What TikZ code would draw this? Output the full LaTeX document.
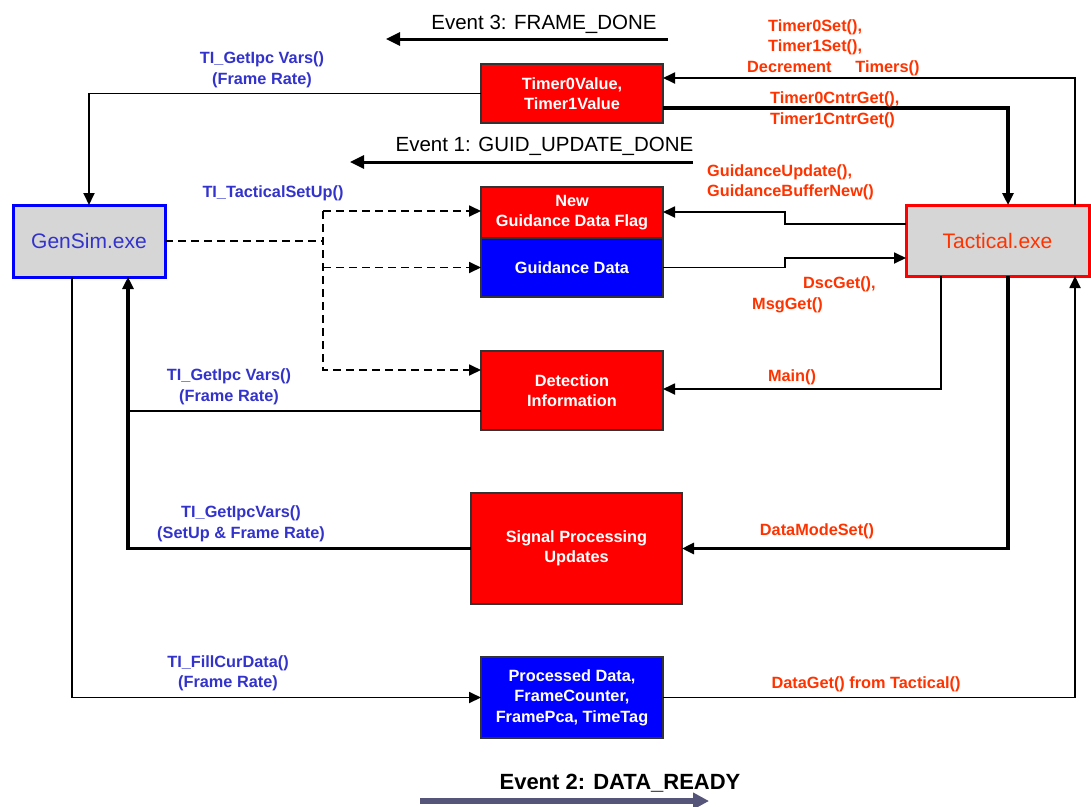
\documentclass[tikz,border=0pt]{standalone}
\usepackage{fontspec}
\setmainfont{Liberation Sans}
\usetikzlibrary{arrows.meta, positioning}

\definecolor{labelblue}{RGB}{51,51,204}
\definecolor{labelred}{RGB}{255,51,0}
\definecolor{exegray}{RGB}{214,214,214}
\definecolor{eventslate}{RGB}{85,85,122}

\begin{document}
\begin{tikzpicture}[
    x=1pt, y=1pt,
    boxfont/.style={font=\fontsize{16.3}{20.5}\selectfont\bfseries},
    redbox/.style={rectangle, draw=black!80, fill=red, line width=1.5pt, text=white, align=center, anchor=north west, inner sep=0pt, outer sep=0pt, minimum width=182pt, boxfont},
    bluebox/.style={redbox, fill=blue},
    exebox/.style={rectangle, fill=exegray, line width=3pt, anchor=north west, inner sep=0pt, outer sep=0pt, minimum height=72pt, font=\fontsize{21}{24}\selectfont},
    bluelabel/.style={text=labelblue, align=center, boxfont, inner sep=0pt},
    redlabel/.style={text=labelred, align=left, boxfont, inner sep=0pt},
    eventtext/.style={font=\fontsize{20.5}{24}\selectfont, inner sep=0pt},
    link/.style={-{Triangle[length=12pt,width=11pt]}, line width=1.8pt},
    thicklink/.style={link, line width=3.2pt},
    dashlink/.style={link, dash pattern=on 8pt off 5pt},
    eventarrow/.style={-{Triangle[length=14pt,width=13pt]}, line width=3pt}
]
\useasboundingbox (0,0) rectangle (1091,-806);

% Executables
\node[exebox, draw=blue, text=labelblue, minimum width=152pt] (gensim) at (13,-205) {GenSim.exe};
\node[exebox, draw=red, text=labelred, minimum width=183pt, minimum height=71pt] (tactical) at (906,-205) {Tactical.exe};

% Shared data blocks
\node[redbox, minimum height=59pt] (timer) at (481,-64) {Timer0Value,\\Timer1Value};
\node[redbox, minimum height=51pt] (flag) at (481,-187) {New\\Guidance Data Flag};
\node[bluebox, minimum height=59pt, below=0pt of flag] (gdata) {Guidance Data};
\node[redbox, minimum height=79pt] (detect) at (481,-351) {Detection\\Information};
\node[redbox, minimum width=211pt, minimum height=111pt] (signal) at (471,-493) {Signal Processing\\Updates};
\node[bluebox, minimum height=81pt] (proc) at (481,-657) {Processed Data,\\FrameCounter,\\FramePca, TimeTag};

% Events
\node[eventtext] (ev3) at (544,-24) {Event 3: FRAME\_DONE};
\node[eventtext] (ev1) at (544.5,-146) {Event 1: GUID\_UPDATE\_DONE};
\node[eventtext, font=\fontsize{22}{26}\selectfont\bfseries] (ev2) at (620,-783) {Event 2: DATA\_READY};
\draw[eventarrow] ([shift={(124pt,-15pt)}]ev3.center) -- ([shift={(-158pt,-15pt)}]ev3.center);
\draw[eventarrow] ([shift={(148.5pt,-16pt)}]ev1.center) -- ([shift={(-194.5pt,-16pt)}]ev1.center);
\draw[eventarrow, draw=eventslate, fill=eventslate, line width=6pt, -{Triangle[length=16pt,width=16pt]}] ([shift={(-200pt,-18pt)}]ev2.center) -- ([shift={(89pt,-18pt)}]ev2.center);

% GenSim calls
\coordinate (bustop) at ([xshift=-158pt,yshift=-24pt]flag.north west);
\draw[link] (timer.west) -| (gensim.north);
\draw[dashlink, -] (gensim.east) -- (gensim.east -| bustop);
\draw[dashlink] (bustop) -- (bustop -| flag.west);
\draw[dashlink] (bustop |- gdata.west) -- (gdata.west);
\draw[dashlink] (bustop) |- ([yshift=-19pt]detect.north west);
\draw[thicklink] (signal.west) -| ([xshift=39pt]gensim.south);
\draw[link, -] ([yshift=19pt]detect.south west) -| ([xshift=39pt]gensim.south);
\draw[link] ([xshift=-17pt]gensim.south) |- (proc.west);

\node[bluelabel] (getipc1) at (262,-70) {TI\_GetIpc Vars()\\(Frame Rate)};
\node[bluelabel] (tacsetup) at (273,-193) {TI\_TacticalSetUp()};
\node[bluelabel] (getipc2) at (229,-387) {TI\_GetIpc Vars()\\(Frame Rate)};
\node[bluelabel] (getipc3) at (241,-524) {TI\_GetIpcVars()\\(SetUp \& Frame Rate)};
\node[bluelabel] (fillcur) at (228,-673.5) {TI\_FillCurData()\\(Frame Rate)};

% Tactical calls
\draw[link] ([xshift=77.5pt]tactical.north) |- ([yshift=-14pt]timer.north east);
\draw[thicklink] ([yshift=15pt]timer.south east) -| ([xshift=10.5pt]tactical.north);
\draw[link] ([yshift=-19pt]tactical.north west) -- ++(-121,0) |- ([yshift=-25pt]flag.north east);
\draw[link] (gdata.east) -- ++(122,0) |- ([yshift=-53pt]tactical.north west);
\draw[link] ([xshift=-56.5pt]tactical.south) |- ([yshift=-38pt]detect.north east);
\draw[thicklink] ([xshift=10.5pt]tactical.south) |- (signal.east);
\draw[link] (proc.east) -| ([xshift=77.5pt]tactical.south);

\node[redlabel, anchor=west] (setlbl) at (747,-47.5) {\hspace*{21pt}Timer0Set(),\\\hspace*{21pt}Timer1Set(),\\Decrement\hspace{24pt}Timers()};
\node[redlabel, anchor=west] (cntrlbl) at (770,-110) {Timer0CntrGet(),\\Timer1CntrGet()};
\node[redlabel, anchor=west] (guidlbl) at (707,-182.5) {GuidanceUpdate(),\\GuidanceBufferNew()};
\node[redlabel, anchor=west] (dsclbl) at (752,-295) {\hspace*{51pt}DscGet(),\\MsgGet()};
\node[redlabel] (mainlbl) at (792,-377) {Main()};
\node[redlabel] (modelbl) at (817,-531) {DataModeSet()};
\node[redlabel] (getlbl) at (866,-684) {DataGet() from Tactical()};

\end{tikzpicture}
\end{document}
